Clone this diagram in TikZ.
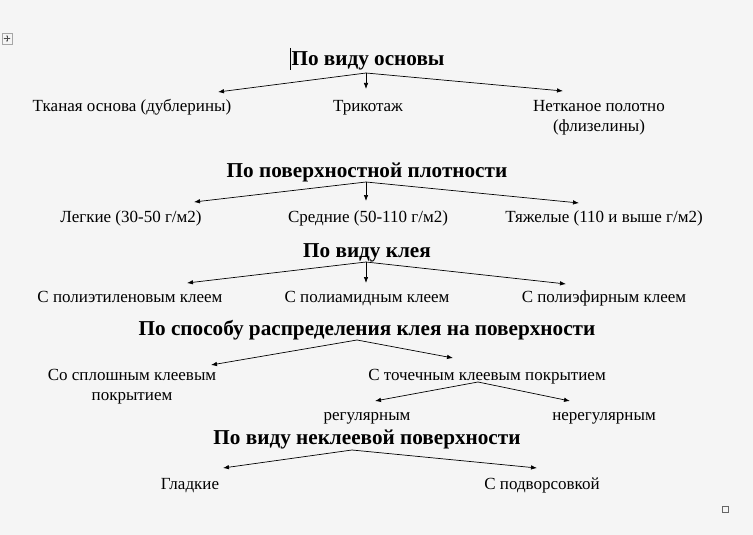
\documentclass[tikz,border=0pt]{standalone}
\usepackage{fontspec}
\setmainfont{Liberation Serif}
\usetikzlibrary{arrows.meta}
\definecolor{bgc}{HTML}{F5F5F5}
\begin{document}
\begin{tikzpicture}[x=1pt,y=-1pt,
  title/.style={font=\fontsize{21.2}{23}\selectfont\bfseries, inner sep=0pt, anchor=base},
  item/.style={font=\fontsize{17}{20}\selectfont, inner sep=0pt, anchor=base},
  arr/.style={-{Latex[length=6pt,width=4.5pt]}, line width=0.7pt}]
\fill[bgc] (0,0) rectangle (753,535);
\useasboundingbox (0,0) rectangle (753,535);
% Word artifacts
\draw[gray!70, line width=0.5pt] (2,33) rectangle (12,44);
\draw[-{Latex[length=1.5pt,width=1.5pt]}, line width=0.5pt, black!70] (7,38.5) -- (7,35);
\draw[-{Latex[length=1.5pt,width=1.5pt]}, line width=0.5pt, black!70] (7,38.5) -- (7,42);
\draw[-{Latex[length=1.5pt,width=1.5pt]}, line width=0.5pt, black!70] (7,38.5) -- (3.5,38.5);
\draw[-{Latex[length=1.5pt,width=1.5pt]}, line width=0.5pt, black!70] (7,38.5) -- (10.5,38.5);
\draw[black!60, line width=0.6pt] (722,506) rectangle (728,512);
\draw[line width=0.6pt] (290.5,48) -- (290.5,70);

% Level 1
\node[title] (t1) at (368,66) {По виду основы};
\node[item] (a1) at (132,111.5) {Тканая основа (дублерины)};
\node[item] (a2) at (368,111.5) {Трикотаж};
\node[item] (a3a) at (599,111.5) {Нетканое полотно};
\node[item] (a3b) at (599,131.5) {(флизелины)};
\coordinate (f1) at (366,73);
\coordinate (e11) at (218,92);
\coordinate (e12) at (366,89);
\coordinate (e13) at (563,91);
\draw[arr] (f1) -- (e11);
\draw[arr] (f1) -- (e12);
\draw[arr] (f1) -- (e13);

% Level 2
\node[title] (t2) at (367,177) {По поверхностной плотности};
\node[item] (b1) at (131,222) {Легкие (30-50 г/м2)};
\node[item] (b2) at (368,222) {Средние (50-110 г/м2)};
\node[item] (b3) at (604,222) {Тяжелые (110 и выше г/м2)};
\coordinate (f2) at (366,182);
\coordinate (e21) at (194,202);
\coordinate (e22) at (366,201);
\coordinate (e23) at (579,203);
\draw[arr] (f2) -- (e21);
\draw[arr] (f2) -- (e22);
\draw[arr] (f2) -- (e23);

% Level 3
\node[title] (t3) at (367,257) {По виду клея};
\node[item] (c1) at (130,302) {С полиэтиленовым клеем};
\node[item] (c2) at (367,302) {С полиамидным клеем};
\node[item] (c3) at (604,302) {С полиэфирным клеем};
\coordinate (f3) at (366,262);
\coordinate (e31) at (187,283);
\coordinate (e32) at (366,283);
\coordinate (e33) at (566,284);
\draw[arr] (f3) -- (e31);
\draw[arr] (f3) -- (e32);
\draw[arr] (f3) -- (e33);

% Level 4
\node[title] (t4) at (367,335.5) {По способу распределения клея на поверхности};
\node[item] (d1a) at (132,380) {Со сплошным клеевым};
\node[item] (d1b) at (132,400) {покрытием};
\node[item] (d2) at (487,380) {С точечным клеевым покрытием};
\coordinate (f4) at (357,340);
\coordinate (e41) at (211,365);
\coordinate (e42) at (453,358);
\draw[arr] (f4) -- (e41);
\draw[arr] (f4) -- (e42);
\node[item] (g1) at (367,420) {регулярным};
\node[item] (g2) at (604,420) {нерегулярным};
\coordinate (f5) at (478,382);
\coordinate (e51) at (375,401);
\coordinate (e52) at (570,401);
\draw[arr] (f5) -- (e51);
\draw[arr] (f5) -- (e52);

% Level 5
\node[title] (t5) at (367,444) {По виду неклеевой поверхности};
\node[item] (h1) at (190,489.5) {Гладкие};
\node[item] (h2) at (542,489.5) {С подворсовкой};
\coordinate (f6) at (352,450);
\coordinate (e61) at (223,468);
\coordinate (e62) at (537,468);
\draw[arr] (f6) -- (e61);
\draw[arr] (f6) -- (e62);
\end{tikzpicture}
\end{document}
